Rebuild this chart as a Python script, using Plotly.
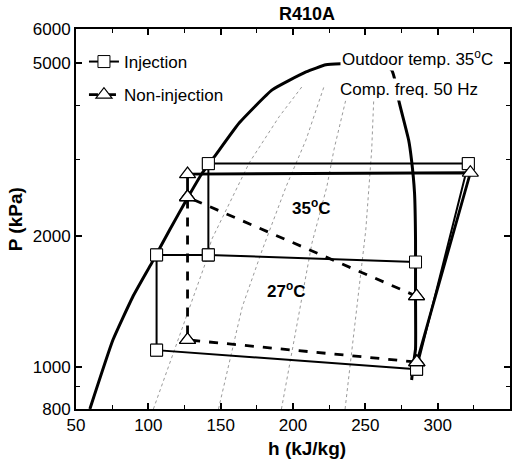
import plotly.graph_objects as go

# Saturation dome (liquid side -> critical region -> vapour side)
dome_h = [59.6, 75.5, 89.2, 102.3, 114.7, 126.4, 137.4, 145.7, 162.9, 185.6, 209, 222.7, 233,
          245, 255, 263, 268.2, 271, 273, 279.9, 281.9, 284, 284.7, 284.7, 284.7, 284.7, 283.3, 282]
dome_P = [800, 1153, 1449, 1734, 2067, 2427, 2800, 3048, 3648, 4345, 4779, 4963, 4990,
          5000, 4980, 4920, 4830, 4500, 4120, 3334, 3000, 2518, 1960, 1744, 1455, 1100, 1020, 933]

# Constant-quality lines (dotted)
q1_h = [103.5, 140.2, 143.6, 169.8, 190.4, 206.2]
q1_P = [800, 1762, 1959, 2953, 3768, 4418]
q2_h = [148.5, 164.9, 178.7, 195.2, 209, 221.4]
q2_P = [800, 1374, 1858, 2600, 3334, 4418]
q3_h = [192, 202.1, 213.1, 223.4, 228.3, 236.5]
q3_P = [800, 1216, 1928, 2600, 3163, 4120]
q4_h = [236, 243.4, 250.3, 254.4, 255.8]
q4_P = [800, 1303, 2065, 3163, 4120]

# Injection cycle (squares)
inj_h = [285.4, 321.2, 141.5, 141.5, 105.7, 105.7, 285.4]
inj_P = [988, 2939, 2939, 1811, 1811, 1093, 988]
inj_branch_h = [141.5, 284.7]
inj_branch_P = [1811, 1744]

# Non-injection cycle (triangles)
non_solid_h = [285.6, 322.6, 127.1, 127.1]
non_solid_P = [1026, 2800, 2780, 2461]
non_dash_h = [285.4, 127.1, 127.1, 285.6]
non_dash_P = [1455, 2461, 1154, 1026]

FONT = "Arial, Liberation Sans, sans-serif"
fig = go.Figure()

for qh, qp in [(q1_h, q1_P), (q2_h, q2_P), (q3_h, q3_P), (q4_h, q4_P)]:
    fig.add_trace(go.Scatter(x=qh, y=qp, mode="lines", showlegend=False,
                             line=dict(color="#9a9a9a", width=1, dash="dot"), hoverinfo="skip"))

fig.add_trace(go.Scatter(x=dome_h, y=dome_P, mode="lines", showlegend=False,
                         line=dict(color="black", width=3, shape="spline", smoothing=0.4)))

sq = dict(symbol="square", size=12, color="white", line=dict(color="black", width=1))
tri = dict(symbol="triangle-up", size=14, color="white", line=dict(color="black", width=1.2))

fig.add_trace(go.Scatter(x=inj_branch_h, y=inj_branch_P, mode="lines", showlegend=False,
                         line=dict(color="black", width=2)))
fig.add_trace(go.Scatter(x=non_solid_h, y=non_solid_P, mode="lines", showlegend=False,
                         line=dict(color="black", width=2.8)))
fig.add_trace(go.Scatter(x=inj_h, y=inj_P, mode="lines+markers", name="Injection",
                         legendgroup="a", line=dict(color="black", width=2), marker=sq))
fig.add_trace(go.Scatter(x=non_dash_h, y=non_dash_P, mode="lines+markers", name="Non-injection",
                         legendgroup="b", line=dict(color="black", width=2.8, dash="dash"), marker=tri))
# markers on top
fig.add_trace(go.Scatter(x=inj_h + inj_branch_h, y=inj_P + inj_branch_P, mode="markers",
                         showlegend=False, marker=sq))
fig.add_trace(go.Scatter(x=non_solid_h + non_dash_h, y=non_solid_P + non_dash_P, mode="markers",
                         showlegend=False, marker=tri))

W, H = 523, 462
L, R, T, B = 76, 11, 29, 53
pw, ph = W - L - R, H - T - B

def px(xp):
    return (xp - L) / pw

def py(yp):
    return (H - B - yp) / ph

def label(text, x, y, size, xanchor="center", **kw):
    return dict(text=text, x=px(x), y=py(y), xref="paper", yref="paper",
                xanchor=xanchor, yanchor="middle", showarrow=False,
                font=dict(size=size, family=FONT, color="black"), **kw)

ann = [
    label("<b>R410A</b>", 308, 14, 18),
    label("<b>h (kJ/kg)</b>", 308, 448, 19),
    label("<b>P (kPa)</b>", 15, 219, 19, textangle=-90),
    label("Outdoor temp. 35<sup>o</sup>C", 341, 58, 17, xanchor="left", bgcolor="white", borderpad=1),
    label("Comp. freq. 50 Hz", 339, 89, 17, xanchor="left", bgcolor="white", borderpad=1),
    label("<b>35<sup>o</sup>C</b>", 312, 207, 17),
    label("<b>27<sup>o</sup>C</b>", 287, 290, 17),
]

axis_common = dict(showline=True, linecolor="black", linewidth=2, mirror="allticks",
                   ticks="inside", ticklen=6, tickwidth=1.5, tickcolor="black",
                   showgrid=False, zeroline=False,
                   tickfont=dict(size=17, family=FONT, color="black"))

fig.update_layout(
    width=W, height=H, margin=dict(l=L, r=R, t=T, b=B),
    paper_bgcolor="white", plot_bgcolor="white",
    showlegend=True,
    legend=dict(x=px(84), y=py(44), xanchor="left", yanchor="top", bgcolor="rgba(0,0,0,0)",
                traceorder="grouped", tracegroupgap=8,
                font=dict(size=17, family=FONT, color="black")),
    xaxis=dict(range=[50, 350], tickvals=[50, 100, 150, 200, 250, 300, 350],
               minor=dict(tickvals=[75, 125, 175, 225, 275, 325], ticks="inside", ticklen=4,
                          tickcolor="black", tickwidth=1.2),
               **axis_common),
    yaxis=dict(type="log", range=[2.90309, 3.778151],
               tickvals=[800, 1000, 2000, 5000, 6000], ticktext=["800", "1000", "2000", "5000", "6000"],
               minor=dict(tickvals=[900, 3000, 4000], ticks="inside", ticklen=4,
                          tickcolor="black", tickwidth=1.2),
               **axis_common),
    annotations=ann,
)

fig.write_html("out.html")
